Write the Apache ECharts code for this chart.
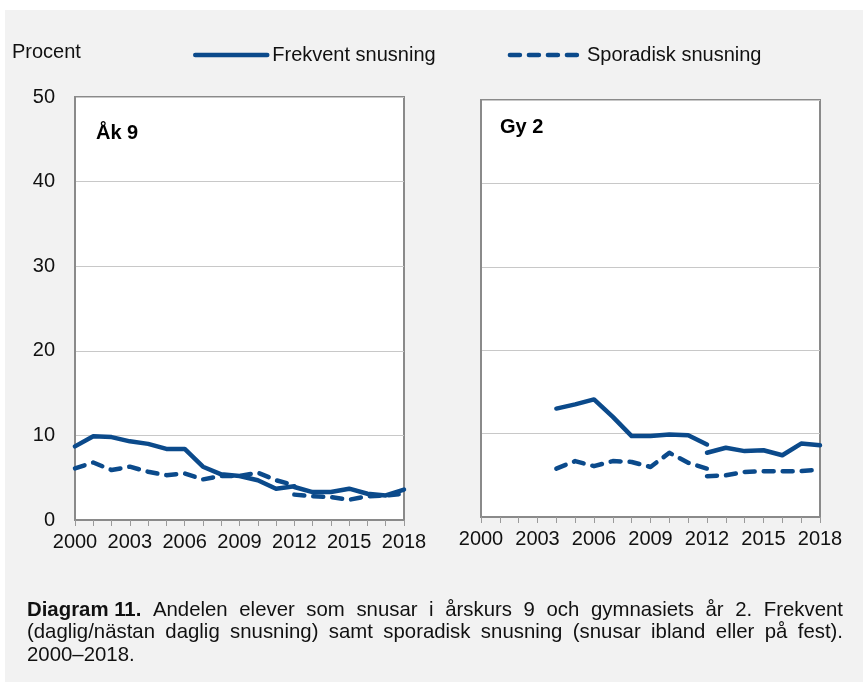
<!DOCTYPE html>
<html>
<head>
<meta charset="utf-8">
<script src="https://cdn.jsdelivr.net/npm/echarts@6/dist/echarts.min.js"></script>
<style>
  html, body { margin: 0; padding: 0; background: #ffffff; }
  #chart { width: 868px; height: 688px; }
</style>
</head>
<body>
<div id="chart"></div>
<script>
var years = ['2000', '2001', '2002', '2003', '2004', '2005', '2006', '2007', '2008', '2009',
             '2010', '2011', '2012', '2013', '2014', '2015', '2016', '2017', '2018'];

// Åk 9 (old method up to 2012, new method from 2012)
var ak9FrekventA = [8.7, 9.9, 9.8, 9.3, 9.0, 8.4, 8.4, 6.3, 5.4, 5.2, 4.7, 3.7, 4.0,
                    null, null, null, null, null, null];
var ak9FrekventB = [null, null, null, null, null, null, null, null, null, null, null, null,
                    3.9, 3.3, 3.3, 3.7, 3.1, 2.9, 3.6];
var ak9SporadiskA = [6.1, 6.8, 5.9, 6.3, 5.7, 5.3, 5.5, 4.8, 5.2, 5.2, 5.6, 4.7, 4.1,
                     null, null, null, null, null, null];
var ak9SporadiskB = [null, null, null, null, null, null, null, null, null, null, null, null,
                     3.0, 2.8, 2.7, 2.4, 2.8, 2.9, 3.1];

// Gy 2
var gy2FrekventA = [null, null, null, null, 13.0, 13.5, 14.1, 12.0, 9.7, 9.7, 9.9, 9.8, 8.7,
                    null, null, null, null, null, null];
var gy2FrekventB = [null, null, null, null, null, null, null, null, null, null, null, null,
                    7.7, 8.3, 7.9, 8.0, 7.4, 8.8, 8.6];
var gy2SporadiskA = [null, null, null, null, 5.8, 6.7, 6.1, 6.7, 6.6, 6.0, 7.7, 6.5, 5.8,
                     null, null, null, null, null, null];
var gy2SporadiskB = [null, null, null, null, null, null, null, null, null, null, null, null,
                     4.9, 5.0, 5.4, 5.5, 5.5, 5.5, 5.7];

var yTicks = [0, 10, 20, 30, 40, 50];
var panelTitles = ['Åk 9', 'Gy 2'];
var seriesNames = ['Frekvent snusning', 'Sporadisk snusning'];

var captionLines = [
    [['Diagram\u00a011.', true], ['Andelen elever som snusar i årskurs 9 och gymnasiets år 2. Frekvent', false]],
    [['(daglig/nästan daglig snusning) samt sporadisk snusning (snusar ibland eller på fest).', false]],
    [['2000–2018.', false]]
];

var blue = '#0b4a8b';
var fontFam = 'Liberation Sans, Arial, sans-serif';

var myChart = echarts.init(document.getElementById('chart'));

function makeSeries(name, data, idx, dashed) {
    return {
        name: name,
        type: 'line',
        xAxisIndex: idx,
        yAxisIndex: idx,
        data: data,
        symbol: 'none',
        connectNulls: false,
        silent: true,
        color: blue,
        lineStyle: {
            color: blue,
            width: 4.5,
            type: dashed ? [10, 9] : 'solid',
            cap: 'round',
            join: 'round'
        }
    };
}

function xAxis(idx) {
    return {
        type: 'category',
        gridIndex: idx,
        data: years,
        boundaryGap: false,
        axisLine: { lineStyle: { color: '#8a8a8a', width: 2 } },
        axisTick: { show: true, interval: 0, length: 6, lineStyle: { color: '#9a9a9a', width: 1 } },
        axisLabel: { interval: 2, color: '#111', fontSize: 20, fontFamily: fontFam, margin: 12 },
        splitLine: { show: false }
    };
}

function yAxis(idx, showLabels) {
    return {
        type: 'value',
        gridIndex: idx,
        min: yTicks[0],
        max: yTicks[yTicks.length - 1],
        interval: 10,
        axisLine: { show: true, lineStyle: { color: '#8a8a8a', width: 2 } },
        axisTick: { show: false },
        axisLabel: { show: showLabels, color: '#111', fontSize: 20, fontFamily: fontFam, margin: 20 },
        splitLine: { show: true, lineStyle: { color: '#c8c8c8', width: 1 } }
    };
}

// justified caption
var measureCtx = document.createElement('canvas').getContext('2d');
function captionGraphics() {
    var els = [];
    var x0 = 27, x1 = 843, y0 = 610, lh = 22.5, size = 21, sx = 0.97;
    for (var i = 0; i < captionLines.length; i++) {
        var words = [];
        captionLines[i].forEach(function (part) {
            part[0].split(' ').forEach(function (w) { words.push({ t: w.replace('\u00a0', ' '), b: part[1] }); });
        });
        var total = 0;
        words.forEach(function (w) {
            measureCtx.font = (w.b ? 'bold ' : '') + size + 'px ' + fontFam;
            w.w = measureCtx.measureText(w.t).width * sx;
            total += w.w;
        });
        var justify = i < captionLines.length - 1;
        var gap = justify && words.length > 1 ? (x1 - x0 - total) / (words.length - 1) : size * 0.25;
        var x = x0;
        words.forEach(function (w) {
            els.push({
                type: 'text', x: x, y: y0 + i * lh, scaleX: sx,
                style: {
                    text: w.t, fill: '#111', verticalAlign: 'middle', align: 'left',
                    font: (w.b ? 'bold ' : '') + size + 'px ' + fontFam
                }
            });
            x += w.w + gap;
        });
    }
    return els;
}

var graphics = [
    { type: 'rect', shape: { x: 5, y: 10, width: 858, height: 672 }, style: { fill: '#f2f2f2' }, z: -10 },
    { type: 'text', left: 12, top: 42, style: { text: 'Procent', fill: '#111', font: '20px ' + fontFam } },
    { type: 'text', left: 96, top: 123, z: 10, style: { text: panelTitles[0], fill: '#000', font: 'bold 20px ' + fontFam } },
    { type: 'text', left: 500, top: 117, z: 10, style: { text: panelTitles[1], fill: '#000', font: 'bold 20px ' + fontFam } }
].concat(captionGraphics());

var option = {
    backgroundColor: '#ffffff',
    animation: false,
    legend: {
        left: 193,
        top: 45,
        padding: 0,
        itemWidth: 72,
        itemHeight: 14,
        itemGap: 72,
        data: seriesNames,
        itemStyle: { opacity: 0 },
        lineStyle: { width: 4.5, cap: 'round' },
        textStyle: { fontSize: 20, color: '#111', fontFamily: fontFam }
    },
    grid: [
        { left: 75, top: 97, width: 329, height: 423, show: true, backgroundColor: '#ffffff', borderColor: '#8a8a8a', borderWidth: 2 },
        { left: 481, top: 100, width: 339, height: 417, show: true, backgroundColor: '#ffffff', borderColor: '#8a8a8a', borderWidth: 2 }
    ],
    xAxis: [xAxis(0), xAxis(1)],
    yAxis: [yAxis(0, true), yAxis(1, false)],
    graphic: graphics,
    series: [
        makeSeries(seriesNames[0], ak9FrekventA, 0, false),
        makeSeries(seriesNames[0], ak9FrekventB, 0, false),
        makeSeries(seriesNames[1], ak9SporadiskA, 0, true),
        makeSeries(seriesNames[1], ak9SporadiskB, 0, true),
        makeSeries(seriesNames[0], gy2FrekventA, 1, false),
        makeSeries(seriesNames[0], gy2FrekventB, 1, false),
        makeSeries(seriesNames[1], gy2SporadiskA, 1, true),
        makeSeries(seriesNames[1], gy2SporadiskB, 1, true)
    ]
};
myChart.setOption(option);
</script>
</body>
</html>
